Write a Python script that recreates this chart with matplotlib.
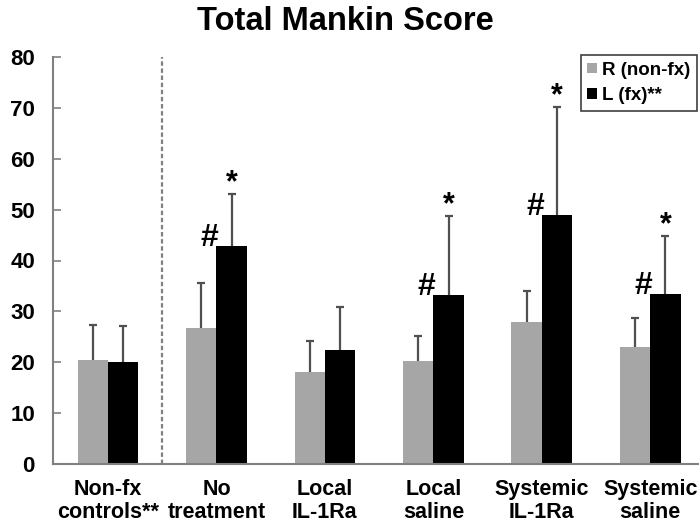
import matplotlib
matplotlib.use("Agg")
import matplotlib.pyplot as plt
import numpy as np

plt.rcParams['font.family'] = ['Liberation Sans', 'DejaVu Sans']
plt.rcParams['font.weight'] = 'bold'

categories = ["Non-fx\ncontrols**", "No\ntreatment", "Local\nIL-1Ra", "Local\nsaline",
              "Systemic\nIL-1Ra", "Systemic\nsaline"]
r_mean = [20.4, 26.7, 18.0, 20.2, 28.0, 23.0]
r_sd = [6.9, 8.9, 6.2, 4.9, 6.0, 5.6]
l_mean = [20.0, 42.8, 22.5, 33.2, 48.9, 33.4]
l_sd = [7.1, 10.2, 8.3, 15.5, 21.3, 11.5]
hash_groups = [1, 3, 4, 5]
star_groups = [1, 3, 4, 5]
yticks = [0, 10, 20, 30, 40, 50, 60, 70, 80]

W, H = 699, 529
fig = plt.figure(figsize=(W / 100, H / 100), dpi=100)
ax = fig.add_axes([53 / W, (H - 464) / H, (698 - 53) / W, (464 - 57) / H])

x = np.arange(len(categories))
bw = 0.28
gray = '#a6a6a6'
ax.bar(x - bw / 2, r_mean, bw, color=gray, label='R (non-fx)', zorder=2)
ax.bar(x + bw / 2, l_mean, bw, color='black', label='L (fx)**', zorder=2)

ecol = '#505050'
for xs, m, s in [(x - bw / 2, r_mean, r_sd), (x + bw / 2, l_mean, l_sd)]:
    _, caps, _ = ax.errorbar(xs, m, yerr=[np.zeros(len(m)), s], fmt='none',
                             ecolor=ecol, elinewidth=1.6, capsize=3, capthick=1.6, zorder=3)
    for c in caps:
        if np.allclose(c.get_ydata(), m):
            c.set_visible(False)

for g in hash_groups:
    ax.annotate('#', xy=(x[g], l_mean[g]), xytext=(-5, 0), textcoords='offset points',
                ha='center', va='baseline', fontsize=23, fontweight='bold', zorder=4)
for g in star_groups:
    ax.annotate('*', xy=(x[g] + bw / 2, l_mean[g] + l_sd[g]), xytext=(0, 2),
                textcoords='offset points', ha='center', va='baseline',
                fontsize=22, fontweight='bold', zorder=4)

ax.plot([0.5, 0.5], [0, 80], color='#808080', lw=1.6, dashes=(2, 1.2), zorder=1)

ax.set_xlim(-0.507, 5.44)
ax.set_ylim(0, 80)
ax.set_yticks(yticks)
ax.set_yticklabels([str(t) for t in yticks], fontsize=16, fontweight='bold')
ax.set_xticks(x)
ax.set_xticklabels(categories, fontsize=15.5, fontweight='bold', linespacing=1.08)
ax.tick_params(axis='y', direction='in', length=6, width=1.2, color='#808080', pad=13)
ax.tick_params(axis='x', length=0, pad=11)
for sp in ['top', 'right']:
    ax.spines[sp].set_visible(False)
for sp in ['left', 'bottom']:
    ax.spines[sp].set_color('#808080')
    ax.spines[sp].set_linewidth(1.5)

fig.text(345 / W, 1 - 22 / H, 'Total Mankin Score', ha='center', va='center',
         fontsize=23.5, fontweight='bold')

leg = ax.legend(loc='upper right', bbox_to_anchor=(697 / W, 1 - 55 / H),
                bbox_transform=fig.transFigure, borderaxespad=0,
                fontsize=13.5, handlelength=0.5, handleheight=0.5, handletextpad=0.3,
                borderpad=0.35, labelspacing=0.45, fancybox=False, framealpha=1)
leg.get_frame().set_edgecolor('#404040')
leg.get_frame().set_linewidth(1.2)
for t in leg.get_texts():
    t.set_fontweight('bold')

fig.savefig('out.png', dpi=100)
